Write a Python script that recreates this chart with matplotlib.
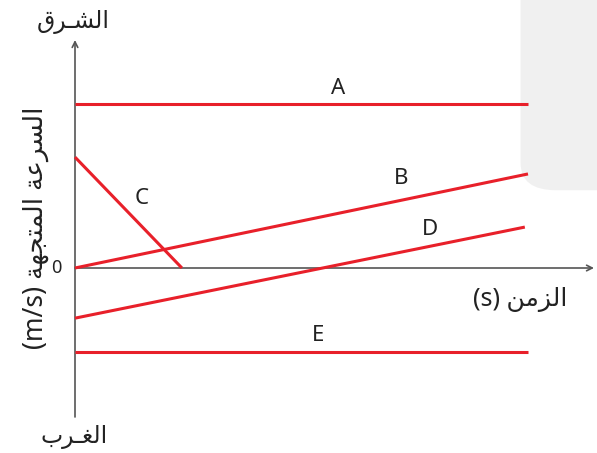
import numpy as np
import matplotlib.pyplot as plt
from matplotlib.patches import FancyBboxPatch

# Velocity-time lines (t in s, v in m/s, arbitrary units)
line_names = ['A', 'B', 'C', 'D', 'E']
t_start = [0.0, 0.0, 0.0, 0.0, 0.0]
t_end = [10.0, 10.0, 2.36, 9.93, 10.0]
v_start = [4.97, 0.0, 3.36, -1.52, -2.55]
v_end = [4.97, 2.85, 0.0, 1.24, -2.55]
label_t = [5.8, 7.2, 1.48, 7.84, 5.36]
label_v = [5.45, 2.7, 2.1, 1.18, -2.05]

# Arabic text, pre-shaped and written in visual order
east = '\uFED5\uFEAE\u0640\uFEB8\uFEDF\uFE8D'          # الشرق
west = '\uFE8F\uFEAE\u0640\uFED0\uFEDF\uFE8D'          # الغرب
time_word = '\uFEE6\uFEE3\uFEB0\uFEDF\uFE8D'           # الزمن
speed_word = '\uFE94\uFECB\uFEAE\uFEB4\uFEDF\uFE8D'    # السرعة
vector_word = '\uFE94\uFEEC\uFEA0\uFE98\uFEE4\uFEDF\uFE8D'  # المتجهة

W, H = 597, 453
X0, Y0 = 75, 268          # pixel position of the origin
SX, SY = 45.3, 33.0       # pixels per unit

RED = '#e8202a'
AXIS = '#555555'
fam = ['Noto Sans', 'DejaVu Sans']

fig = plt.figure(figsize=(W / 100, H / 100), dpi=100)
ax = fig.add_axes([0, 0, 1, 1])
ax.set_xlim(-X0 / SX, (W - X0) / SX)
ax.set_ylim(-(H - Y0) / SY, Y0 / SY)
ax.axis('off')

# faint watermark block on the right, behind everything
ax.add_patch(FancyBboxPatch((0.872, 0.58), 0.2, 0.5, boxstyle='round,pad=0,rounding_size=0.06',
                            transform=fig.transFigure, fc='#f0f0f0', ec='none', zorder=0,
                            clip_on=False))

# axes with arrows
ax.annotate('', xy=(0, (Y0 - 40) / SY), xytext=(0, -(417 - Y0) / SY),
            arrowprops=dict(arrowstyle='->', color=AXIS, lw=1.2, shrinkA=0, shrinkB=0))
ax.annotate('', xy=((594 - X0) / SX, 0), xytext=(0, 0),
            arrowprops=dict(arrowstyle='->', color=AXIS, lw=1.2, shrinkA=0, shrinkB=0))

for name, t0, t1, v0, v1, lt, lv in zip(line_names, t_start, t_end, v_start, v_end, label_t, label_v):
    ax.plot([t0, t1], [v0, v1], color=RED, lw=2.2, solid_capstyle='butt', zorder=3)
    ax.text(lt, lv, name, fontsize=16, family=fam, ha='center', va='center', color='#222222')

ax.text(-0.42, 0, '0', fontsize=13, family=fam, ha='center', va='center', color='#222222')

fig.text(73 / W, 1 - 22 / H, east, fontsize=17, family=fam, ha='center', va='center', color='#222222')
fig.text(74 / W, 1 - 437 / H, west, fontsize=17, family=fam, ha='center', va='center', color='#222222')
fig.text(520 / W, 1 - 300 / H, '(s) ' + time_word, fontsize=18, family=fam,
         ha='center', va='center', color='#222222')
fig.text(36 / W, 1 - 228 / H, '(m/s) ' + vector_word + ' ' + speed_word, fontsize=19, family=fam,
         rotation=90, ha='center', va='center', color='#222222')

fig.savefig('out.png', dpi=100)
